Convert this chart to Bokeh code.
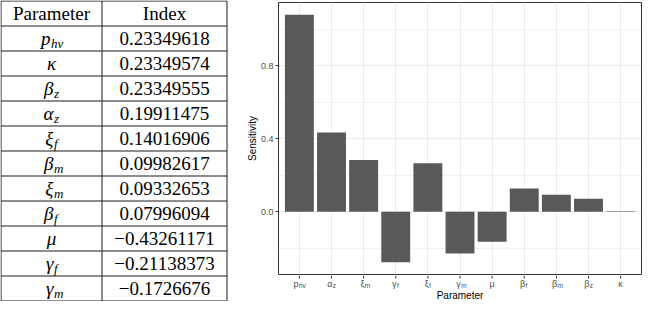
from bokeh.plotting import figure
from bokeh.layouts import row, column
from bokeh.models import (Range1d, FactorRange, ColumnDataSource,
                          FixedTicker, NumeralTickFormatter)
from bokeh.embed import file_html
from bokeh.resources import INLINE
from bokeh.core.properties import value

# ---------------- data ----------------
tbl_headers = ["Parameter", "Index"]
tbl_symbols = ["p", "κ", "β", "α", "ξ", "β", "ξ", "β", "μ", "γ", "γ"]
tbl_subs = ["hv", "", "z", "z", "f", "m", "m", "f", "", "f", "m"]
tbl_index = [0.23349618, 0.23349574, 0.23349555, 0.19911475, 0.14016906,
             0.09982617, 0.09332653, 0.07996094, -0.43261171, -0.21138373,
             -0.1726676]

bar_symbols = ["p", "α", "ξ", "γ", "ξ", "γ", "μ", "β", "β", "β", "κ"]
bar_subs = ["hv", "z", "m", "f", "f", "m", "", "f", "m", "z", ""]
sensitivity = [1.08, 0.435, 0.284, -0.276, 0.266, -0.229, -0.164,
               0.128, 0.094, 0.072, 0.003]
y_ticks = [0.0, 0.4, 0.8]
y_minor = [-0.2, 0.2, 0.6, 1.0]
x_title = "Parameter"
y_title = "Sensitivity"

# ---------------- table ----------------
TW, TH = 232, 301
t = figure(width=TW, height=TH, x_range=Range1d(0, TW), y_range=Range1d(0, TH),
           output_backend="svg", toolbar_location=None, min_border=0,
           title=None)
t.frame_align = False
t.axis.visible = False
t.grid.visible = False
t.outline_line_color = None

nrows = len(tbl_symbols) + 1
top, bottom = TH - 0.5, 0.5
rh = (top - bottom) / nrows
ys = [round(top - i * rh - 0.5) + 0.5 for i in range(nrows + 1)]
x_left, x_div, x_right = 0.5, 101.5, 226.5
line_col = "#1a1a1a"
t.segment(x0=[x_left] * len(ys), x1=[x_right] * len(ys), y0=ys, y1=ys,
          line_color=line_col, line_width=1)
t.segment(x0=[x_left, x_div, x_right], x1=[x_left, x_div, x_right],
          y0=[ys[-1]] * 3, y1=[ys[0]] * 3, line_color=line_col, line_width=1)

cx1 = (x_left + x_div) / 2
cx2 = (x_div + x_right) / 2
cy = [(ys[i] + ys[i + 1]) / 2 for i in range(nrows)]
FS = "19px"
t.text(x=[cx1, cx2], y=[cy[0], cy[0]], text=tbl_headers, text_align="center",
       text_baseline="middle", text_font=value("Liberation Serif"),
       text_font_size=FS, text_color="black")

nums = [str(v).replace("-", "\u2212") for v in tbl_index]
t.text(x=[cx2] * len(nums), y=cy[1:], text=nums, text_align="center",
       text_baseline="middle", text_font=value("Liberation Serif"),
       text_font_size=FS, text_color="black")

main_x, main_align, sub_x = [], [], []
for s, b in zip(tbl_symbols, tbl_subs):
    if b:
        shift = (10 - 6 * len(b)) / 2
        main_x.append(cx1 + shift)
        main_align.append("right")
        sub_x.append(cx1 + shift + 0.5)
    else:
        main_x.append(cx1)
        main_align.append("center")
        sub_x.append(cx1)
src_main = ColumnDataSource(dict(x=main_x, y=cy[1:], text=tbl_symbols, al=main_align))
t.text(x="x", y="y", text="text", text_align="al", source=src_main,
       text_baseline="middle", text_font=value("Liberation Serif"),
       text_font_style="italic", text_font_size=FS, text_color="black")
src_sub = ColumnDataSource(dict(x=sub_x, y=[c - 5 for c in cy[1:]], text=tbl_subs))
t.text(x="x", y="y", text="text", source=src_sub, text_align="left",
       text_baseline="middle", text_font=value("Liberation Serif"),
       text_font_style="italic", text_font_size="13px", text_color="black")

# ---------------- bar chart ----------------
CW = 410
CH1, CH2 = 275, 26          # chart panel figure / x-axis label strip
MB_TOP, MB_BOTTOM, MB_LEFT, MB_RIGHT = 2, 1, 46, 1
factors = [s + b for s, b in zip(bar_symbols, bar_subs)]
ymin, ymax = min(sensitivity), max(sensitivity)
pad = 0.05 * (ymax - ymin)
y_start, y_end = ymin - pad, ymax + pad

xr = FactorRange(factors=factors, range_padding=0.15,
                 range_padding_units="absolute")
c = figure(width=CW, height=CH1, x_range=xr, y_range=Range1d(y_start, y_end),
           output_backend="svg", toolbar_location=None, title=None,
           min_border_top=MB_TOP, min_border_bottom=MB_BOTTOM,
           min_border_left=MB_LEFT, min_border_right=MB_RIGHT)
c.frame_align = False
c.background_fill_color = "white"
c.outline_line_color = "#333333"
c.outline_line_width = 1
c.xaxis.visible = False

src_bar = ColumnDataSource(dict(x=factors, top=sensitivity))
c.vbar(x="x", top="top", bottom=0, width=0.9, source=src_bar,
       fill_color="#595959", line_color=None)

c.xgrid.grid_line_color = "#EBEBEB"
c.xgrid.grid_line_width = 1
c.ygrid.ticker = FixedTicker(ticks=y_ticks, minor_ticks=y_minor)
c.ygrid.grid_line_color = "#EBEBEB"
c.ygrid.minor_grid_line_color = "#F2F2F2"
c.ygrid.minor_grid_line_width = 1

ya = c.yaxis[0]
ya.ticker = FixedTicker(ticks=y_ticks, minor_ticks=y_minor)
ya.formatter = NumeralTickFormatter(format="0.0")
ya.minor_tick_out = 0
ya.minor_tick_in = 0
ya.axis_line_color = None
ya.major_tick_line_color = "#333333"
ya.major_tick_out = 3
ya.major_tick_in = 0
ya.major_label_text_font = "Liberation Sans"
ya.major_label_text_font_size = "9px"
ya.major_label_text_color = "#4D4D4D"
ya.major_label_standoff = 2
ya.axis_label = y_title
ya.axis_label_text_font = "Liberation Sans"
ya.axis_label_text_font_size = "10px"
ya.axis_label_text_font_style = "normal"
ya.axis_label_text_color = "black"
ya.axis_label_standoff = 0

# x-axis strip: ticks, tick labels with subscripts, axis title
L = figure(width=CW, height=CH2, x_range=xr, y_range=Range1d(0, CH2),
           output_backend="svg", toolbar_location=None, title=None,
           min_border_top=0, min_border_bottom=0,
           min_border_left=MB_LEFT, min_border_right=MB_RIGHT)
L.frame_align = False
L.axis.visible = False
L.grid.visible = False
L.outline_line_color = None

n = len(factors)
L.segment(x0=factors, x1=factors, y0=[CH2] * n, y1=[CH2 - 3] * n,
          line_color="#333333", line_width=1)

dx_main, al_main, dx_sub = [], [], []
for s, b in zip(bar_symbols, bar_subs):
    if b:
        sh = (5 - 3.3 * len(b)) / 2
        dx_main.append(sh)
        al_main.append("right")
        dx_sub.append(sh + 0.3)
    else:
        dx_main.append(0)
        al_main.append("center")
        dx_sub.append(0)
lab_src = ColumnDataSource(dict(x=factors, yb=[CH2 - 3.0] * n,
                                ys=[CH2 - 6.0] * n,
                                tb=bar_symbols, ts=bar_subs,
                                dxm=dx_main, alm=al_main, dxs=dx_sub))
L.text(x="x", y="yb", text="tb", source=lab_src, x_offset="dxm",
       text_align="alm", text_baseline="top",
       text_font=value("Liberation Sans"), text_font_size="9px",
       text_color="#4D4D4D")
L.text(x="x", y="ys", text="ts", source=lab_src, x_offset="dxs",
       text_align="left", text_baseline="top",
       text_font=value("Liberation Sans"), text_font_size="6.5px",
       text_color="#4D4D4D")
mid = factors[n // 2]
L.text(x=[mid], y=[CH2 - 19.5], text=[x_title], text_align="center",
       text_baseline="middle", text_font=value("Liberation Sans"),
       text_font_size="10px", text_color="black")

layout = row(t, column(c, L, spacing=0), spacing=0)
open("out.html", "w").write(file_html(layout, INLINE))
